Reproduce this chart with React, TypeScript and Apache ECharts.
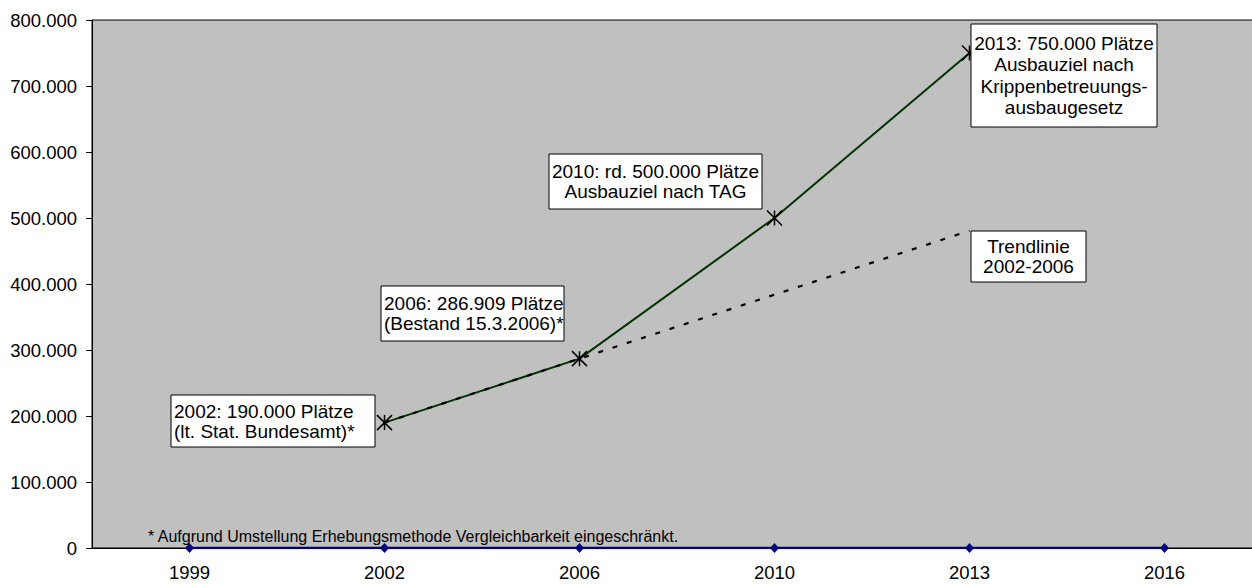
import React, { useEffect, useRef } from "react";
import * as echarts from "echarts";

const categories = ["1999", "2002", "2006", "2010", "2013", "2016"];
const ausbauValues = [null, 190000, 286909, 500000, 750000, null];
const trendValues = [null, 190000, 286909, 383818, 480727, null];
const baseValues = [0, 0, 0, 0, 0, 0];
const yTicks = { min: 0, max: 800000, interval: 100000 };

const FONT = "'Liberation Sans', Arial, Helvetica, sans-serif";

type Note = { box: [number, number, number, number]; align: "left" | "center"; lines: string[]; pitch: number };
const notes: Note[] = [
  { box: [171, 395, 204, 52], align: "left", lines: ["2002: 190.000 Plätze", "(lt. Stat. Bundesamt)*"], pitch: 20 },
  { box: [381, 286, 183, 55], align: "left", lines: ["2006: 286.909 Plätze", "(Bestand 15.3.2006)*"], pitch: 20 },
  { box: [549, 154, 213, 55], align: "center", lines: ["2010: rd. 500.000 Plätze", "Ausbauziel nach TAG"], pitch: 20 },
  {
    box: [971, 24, 186, 103],
    align: "center",
    lines: ["2013: 750.000 Plätze", "Ausbauziel nach", "Krippenbetreuungs-", "ausbaugesetz"],
    pitch: 21.5,
  },
  { box: [971, 231, 115, 51], align: "center", lines: ["Trendlinie", "2002-2006"], pitch: 20 },
];
const footnote = "* Aufgrund Umstellung Erhebungsmethode Vergleichbarkeit eingeschränkt.";

function fmt(v: number) {
  if (v === 0) return "0";
  return Math.round(v / 1000) + ".000";
}

export default function App() {
  const ref = useRef<HTMLDivElement>(null);
  useEffect(() => {
    if (!ref.current) return;
    const chart = echarts.init(ref.current, null, { renderer: "svg" });

    const graphics: any[] = [];
    notes.forEach((n) => {
      const [x, y, w, h] = n.box;
      graphics.push({
        type: "rect",
        z: 100,
        shape: { x, y, width: w, height: h },
        style: { fill: "#ffffff", stroke: "#000000", lineWidth: 1 },
      });
      const cy = y + h / 2;
      const count = n.lines.length;
      n.lines.forEach((line, i) => {
        const ly = cy + (i - (count - 1) / 2) * n.pitch;
        graphics.push({
          type: "text",
          z: 101,
          x: n.align === "left" ? x + 3 : x + w / 2,
          y: ly,
          style: {
            legacy: false,
            text: line,
            fill: "#000000",
            font: `19px ${FONT}`,
            align: n.align,
            verticalAlign: "middle",
          },
        });
      });
    });
    graphics.push({
      type: "text",
      z: 101,
      x: 148,
      y: 536,
      style: {
        legacy: false,
        text: footnote,
        fill: "#000000",
        font: `16px ${FONT}`,
        align: "left",
        verticalAlign: "middle",
      },
    });

    const starPath = "path://M0,0 L10,10 M10,0 L0,10 M5,0 L5,10";

    chart.setOption({
      animation: false,
      textStyle: { fontFamily: FONT },
      grid: {
        left: 92,
        top: 20,
        width: 1170,
        height: 528,
        outerBoundsMode: "none",
        containLabel: false,
        show: true,
        backgroundColor: "#c0c0c0",
        borderColor: "#000000",
        borderWidth: 1,
      },
      xAxis: {
        type: "category",
        data: categories,
        boundaryGap: true,
        axisLine: { show: true, lineStyle: { color: "#000000", width: 1 } },
        axisTick: { show: false },
        axisLabel: { color: "#000000", fontSize: 18.5, margin: 15, fontFamily: FONT },
        splitLine: { show: false },
      },
      yAxis: {
        type: "value",
        min: yTicks.min,
        max: yTicks.max,
        interval: yTicks.interval,
        axisLine: { show: true, lineStyle: { color: "#000000", width: 1 } },
        axisTick: { show: true, length: 6, lineStyle: { color: "#000000" } },
        axisLabel: { color: "#000000", fontSize: 18.5, margin: 15, formatter: fmt, fontFamily: FONT },
        splitLine: { show: false },
      },
      series: [
        {
          type: "line",
          data: baseValues,
          z: 3,
          symbol: "diamond",
          symbolSize: [9, 10],
          lineStyle: { color: "#000080", width: 2.5 },
          itemStyle: { color: "#000080" },
        },
        {
          type: "line",
          data: ausbauValues,
          z: 4,
          symbol: starPath,
          symbolSize: 15,
          lineStyle: { color: "#003300", width: 2 },
          itemStyle: { color: "none", borderColor: "#000000", borderWidth: 1.5 },
        },
        {
          type: "line",
          data: trendValues,
          z: 5,
          symbol: "none",
          lineStyle: { color: "#000000", width: 2.2, type: [5, 10] },
        },
      ],
      graphic: graphics,
    });
    return () => chart.dispose();
  }, []);
  return (
    <div
      ref={ref}
      style={{ position: "absolute", left: 0, top: 0, width: 1252, height: 584, overflow: "hidden" }}
    />
  );
}
